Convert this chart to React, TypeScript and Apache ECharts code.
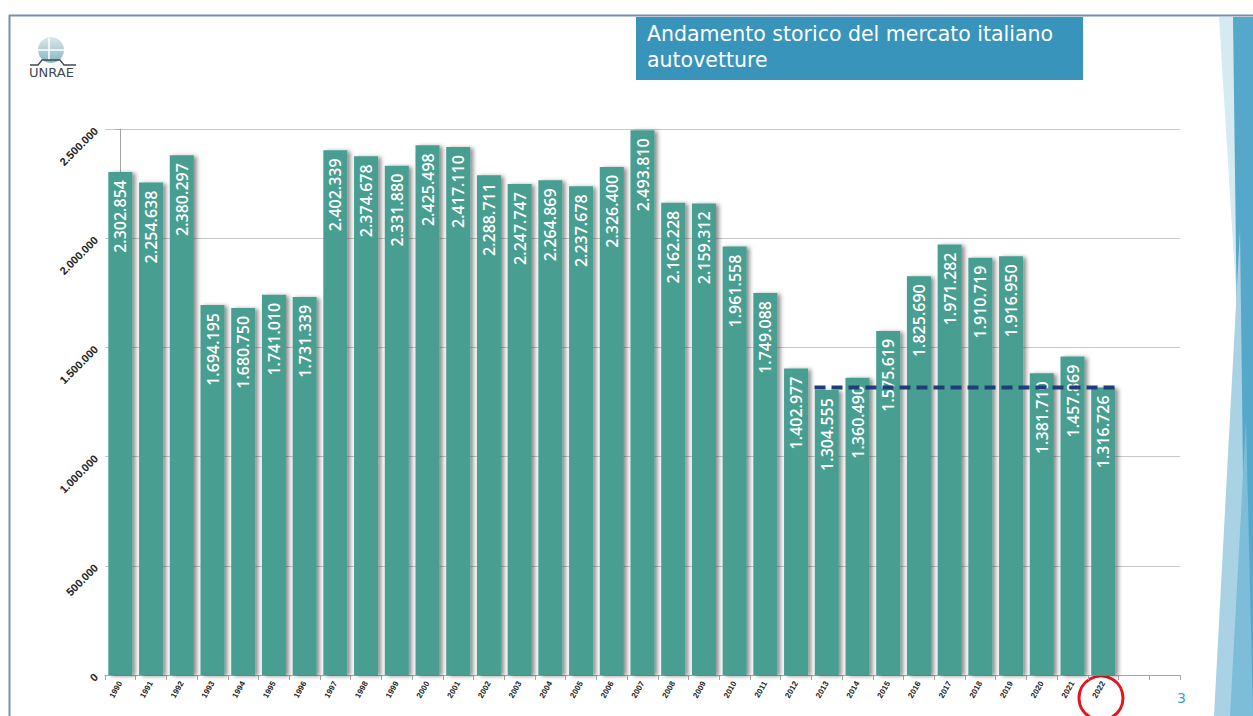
import React, { useEffect, useRef } from "react";
import * as echarts from "echarts";

const years = [
  "1990", "1991", "1992", "1993", "1994", "1995", "1996", "1997", "1998", "1999",
  "2000", "2001", "2002", "2003", "2004", "2005", "2006", "2007", "2008", "2009",
  "2010", "2011", "2012", "2013", "2014", "2015", "2016", "2017", "2018", "2019",
  "2020", "2021", "2022",
];
const emptySlots = ["", ""];
const registrations = [
  2302854, 2254638, 2380297, 1694195, 1680750, 1741010, 1731339, 2402339, 2374678, 2331880,
  2425498, 2417110, 2288711, 2247747, 2264869, 2237678, 2326400, 2493810, 2162228, 2159312,
  1961558, 1749088, 1402977, 1304555, 1360490, 1575619, 1825690, 1971282, 1910719, 1916950,
  1381710, 1457869, 1316726,
];
const yTicks = [0, 500000, 1000000, 1500000, 2000000, 2500000];
const dashFrom = "2013";
const dashTo = "2022";
const dashLevel = 1316726;
const titleLines = ["Andamento storico del mercato italiano", "autovetture"];
const pageNumber = "3";

const fmt = (n: number) => String(n).replace(/\B(?=(\d{3})+(?!\d))/g, ".");

export default function App() {
  const ref = useRef<HTMLDivElement>(null);
  useEffect(() => {
    if (!ref.current) return;
    const chart = echarts.init(ref.current, undefined, { renderer: "svg" });
    const cats = [...years, ...emptySlots];
    const i0 = years.indexOf(dashFrom) - 0.4;
    const i1 = years.indexOf(dashTo) + 0.4;
    chart.setOption({
      animation: false,
      backgroundColor: "#ffffff",
      grid: { left: 105, right: 73, top: 129, bottom: 41 },
      xAxis: [
        {
          type: "category",
          data: cats,
          axisLine: { lineStyle: { color: "#a6a6a6" } },
          axisTick: { show: true, length: 5, lineStyle: { color: "#a6a6a6" } },
          axisLabel: {
            rotate: 60,
            fontSize: 8,
            fontWeight: "bold",
            color: "#222",
            fontFamily: "Liberation Sans",
            margin: 7,
            interval: 0,
          },
        },
        { type: "value", min: -0.5, max: cats.length - 0.5, show: false },
      ],
      yAxis: {
        type: "value",
        min: 0,
        max: yTicks[yTicks.length - 1],
        interval: yTicks[1] - yTicks[0],
        axisLine: { show: true, lineStyle: { color: "#a6a6a6" } },
        axisTick: { show: true, length: 5, lineStyle: { color: "#a6a6a6" } },
        splitLine: { lineStyle: { color: "#c8c8c8" } },
        axisLabel: {
          rotate: 45,
          fontSize: 11,
          fontWeight: "bold",
          color: "#222",
          fontFamily: "Liberation Sans",
          margin: 9,
          formatter: (v: number) => fmt(v),
        },
      },
      series: [
        {
          type: "bar",
          data: registrations,
          barWidth: 24,
          itemStyle: {
            color: "#469e91",
            shadowColor: "rgba(0,0,0,0.45)",
            shadowOffsetX: 3,
            shadowOffsetY: 1,
            shadowBlur: 4,
          },
          label: {
            show: true,
            position: "insideTop",
            rotate: 90,
            align: "right",
            verticalAlign: "middle",
            distance: 8,
            color: "#ffffff",
            fontSize: 16,
            fontWeight: 600,
            fontFamily: "Open Sans",
            formatter: (p: any) => fmt(p.value),
          },
        },
        {
          type: "line",
          xAxisIndex: 1,
          data: [
            [i0, dashLevel],
            [i1, dashLevel],
          ],
          symbol: "none",
          z: 10,
          lineStyle: { color: "#1f3e78", width: 4, type: [11, 6] },
        },
      ],
      graphic: [
        // slide border
        { type: "line", shape: { x1: 9, y1: 15.5, x2: 1253, y2: 15.5 }, style: { stroke: "#7691ab", lineWidth: 2 } },
        { type: "line", shape: { x1: 9.5, y1: 15, x2: 9.5, y2: 716 }, style: { stroke: "#7691ab", lineWidth: 2 } },
        // right decoration
        { type: "polygon", shape: { points: [[1219, 17], [1235, 17], [1239, 340]] }, style: { fill: "#d6eaf2" } },
        { type: "polygon", shape: { points: [[1233, 17], [1253, 17], [1253, 716], [1244, 716], [1237, 330]] }, style: { fill: "#56a8cb" } },
        { type: "polygon", shape: { points: [[1214, 716], [1240, 230], [1246, 716]] }, style: { fill: "#a9d3e5" } },
        { type: "polygon", shape: { points: [[1230, 716], [1246, 420], [1253, 716]] }, style: { fill: "#7ebdd8" } },
        // title box
        { type: "rect", shape: { x: 636, y: 17, width: 447, height: 63 }, style: { fill: "#3894ba" } },
        {
          type: "text",
          x: 647,
          y: 21,
          style: {
            text: titleLines.join("\n"),
            fill: "#ffffff",
            font: "20.5px 'DejaVu Sans'",
            lineHeight: 26,
          },
        },
        // logo
        {
          type: "circle",
          shape: { cx: 51, cy: 50, r: 13 },
          style: {
            fill: new echarts.graphic.LinearGradient(0, 0, 0, 1, [
              { offset: 0, color: "#dbe8ea" },
              { offset: 1, color: "#86b6bf" },
            ]),
          },
        },
        { type: "line", shape: { x1: 49, y1: 38, x2: 49, y2: 60 }, style: { stroke: "#ffffff", lineWidth: 1.5 } },
        { type: "line", shape: { x1: 38, y1: 50, x2: 64, y2: 50 }, style: { stroke: "#ffffff", lineWidth: 1.5 } },
        { type: "polyline", shape: { points: [[30, 65], [38, 65], [42, 60], [60, 60], [64, 65], [76, 65]] }, style: { stroke: "#3d4a55", lineWidth: 1.3, fill: "none" } },
        {
          type: "text",
          x: 29,
          y: 66,
          style: { text: "UNRAE", fill: "#3d4a55", font: "13px 'DejaVu Sans'" },
        },
        // red circle
        { type: "circle", shape: { cx: 1101, cy: 698, r: 22 }, style: { fill: "none", stroke: "#e8141b", lineWidth: 3 } },
        // page number
        {
          type: "text",
          x: 1177,
          y: 691,
          style: { text: pageNumber, fill: "#3aa0d0", font: "14px 'DejaVu Sans'" },
        },
      ],
    });
    return () => chart.dispose();
  }, []);
  return <div ref={ref} style={{ position: "fixed", left: 0, top: 0, width: 1253, height: 716 }} />;
}
